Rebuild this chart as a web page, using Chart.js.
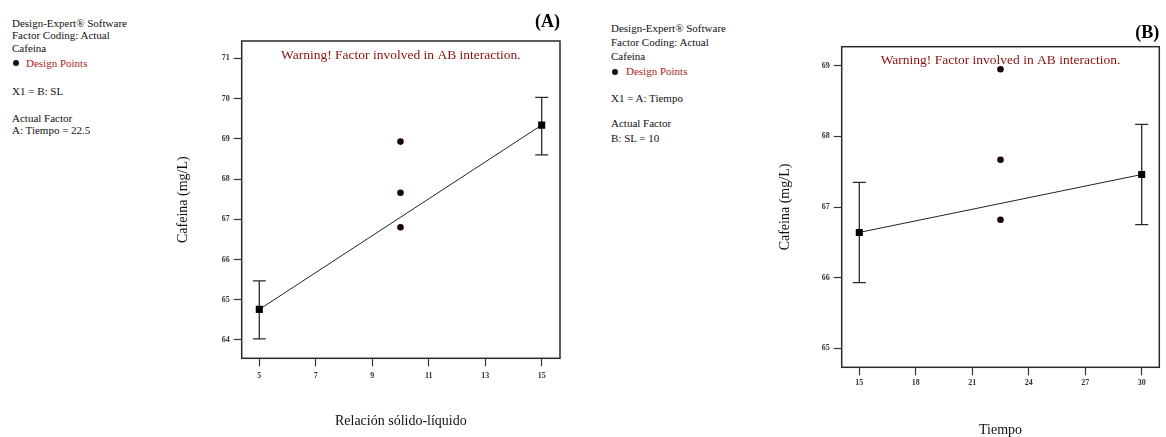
<!DOCTYPE html>
<html>
<head>
<meta charset="utf-8">
<script src="https://cdn.jsdelivr.net/npm/chart.js@4"></script>
<style>
  body { margin: 0; background: #fff; width: 1166px; height: 437px; position: relative; overflow: hidden; }
  canvas { position: absolute; top: 0; }
  .txt { position: absolute; font-family: "Liberation Serif", serif; font-size: 11px; line-height: 13px; color: #111; white-space: nowrap; }
  .red { color: #b01c1c; }
  .dot { position: absolute; width: 6px; height: 6px; border-radius: 50%; background: #111; }
</style>
</head>
<body>
<!-- side notes, panel A -->
<div class="txt" style="left:12px; top:17px">Design-Expert® Software</div>
<div class="txt" style="left:12px; top:28.5px">Factor Coding: Actual</div>
<div class="txt" style="left:12px; top:42px">Cafeina</div>
<div class="dot" style="left:13px; top:60px"></div>
<div class="txt red" style="left:26px; top:57px">Design Points</div>
<div class="txt" style="left:12px; top:85px">X1 = B: SL</div>
<div class="txt" style="left:12px; top:112px">Actual Factor</div>
<div class="txt" style="left:12px; top:123.5px">A: Tiempo = 22.5</div>

<!-- side notes, panel B -->
<div class="txt" style="left:611px; top:22px">Design-Expert® Software</div>
<div class="txt" style="left:611px; top:36px">Factor Coding: Actual</div>
<div class="txt" style="left:611px; top:50px">Cafeina</div>
<div class="dot" style="left:612px; top:69px"></div>
<div class="txt red" style="left:626px; top:65px">Design Points</div>
<div class="txt" style="left:611px; top:92px">X1 = A: Tiempo</div>
<div class="txt" style="left:611px; top:117px">Actual Factor</div>
<div class="txt" style="left:611px; top:132px">B: SL = 10</div>

<canvas id="chartA" width="425" height="437" style="left:150px"></canvas>
<canvas id="chartB" width="406" height="437" style="left:760px"></canvas>

<script>
// ----- panel A: caffeine vs solid-liquid ratio -----
let slX = [5, 15];
let slFit = [64.76, 69.34];
let slErrLow = [64.03, 68.60];
let slErrHigh = [65.47, 70.03];
let slDesignX = [10, 10, 10];
let slDesignY = [68.93, 67.66, 66.80];
let slTicks = [5, 7, 9, 11, 13, 15];
let cafTicksA = [64, 65, 66, 67, 68, 69, 70, 71];

// ----- panel B: caffeine vs time -----
let tiempoX = [15, 30];
let tiempoFit = [66.64, 67.46];
let tiempoErrLow = [65.93, 66.75];
let tiempoErrHigh = [67.35, 68.17];
let tiempoDesignX = [22.5, 22.5, 22.5];
let tiempoDesignY = [68.95, 67.67, 66.82];
let tiempoTicks = [15, 18, 21, 24, 27, 30];
let cafTicksB = [65, 66, 67, 68, 69];

const serif = "'Liberation Serif', 'Times New Roman', serif";
const warning = "Warning! Factor involved in AB interaction.";

// box around plot, error bars and warning line
const designExpert = {
  id: "designExpert",
  beforeDatasetsDraw(chart, args, opts) {
    const ctx = chart.ctx;
    const xs = chart.scales.x, ys = chart.scales.y;
    ctx.save();
    ctx.strokeStyle = "#2a2a2a";
    ctx.lineWidth = 1.3;
    opts.x.forEach((xv, i) => {
      const px = xs.getPixelForValue(xv);
      const top = ys.getPixelForValue(opts.high[i]);
      const bot = ys.getPixelForValue(opts.low[i]);
      ctx.beginPath();
      ctx.moveTo(px, top); ctx.lineTo(px, bot);
      ctx.moveTo(px - 6.5, top); ctx.lineTo(px + 6.5, top);
      ctx.moveTo(px - 6.5, bot); ctx.lineTo(px + 6.5, bot);
      ctx.stroke();
    });
    ctx.restore();
  },
  afterDraw(chart) {
    const ctx = chart.ctx;
    const a = chart.chartArea;
    ctx.save();
    ctx.strokeStyle = "#2a2a2a";
    ctx.lineWidth = 1.5;
    ctx.strokeRect(a.left, a.top, a.right - a.left, a.bottom - a.top);
    ctx.fillStyle = "#8a1010";
    ctx.font = "13.5px " + serif;
    ctx.textAlign = "center";
    ctx.textBaseline = "middle";
    ctx.fillText(warning, (a.left + a.right) / 2, a.top + 14);
    ctx.restore();
  }
};

function makeChart(id, cfg) {
  const ctx = document.getElementById(id).getContext("2d");
  return new Chart(ctx, {
    type: "scatter",
    data: {
      datasets: [{
        data: cfg.fitX.map((x, i) => ({ x: x, y: cfg.fitY[i] })),
        showLine: true,
        borderColor: "#222",
        borderWidth: 1,
        pointStyle: "rect",
        pointRadius: 5,
        pointBackgroundColor: "#000",
        pointBorderColor: "#000",
        pointBorderWidth: 0
      }, {
        data: cfg.designX.map((x, i) => ({ x: x, y: cfg.designY[i] })),
        pointStyle: "circle",
        pointRadius: 3.3,
        pointBackgroundColor: "#1a0505",
        pointBorderColor: "#1a0505",
        pointBorderWidth: 0
      }]
    },
    options: {
      responsive: false,
      animation: false,
      layout: { padding: cfg.padding },
      plugins: {
        legend: { display: false },
        tooltip: { enabled: false },
        title: {
          display: true,
          text: cfg.title,
          align: "end",
          color: "#000",
          font: { family: serif, size: 18, weight: "bold", lineHeight: 1.2 },
          padding: cfg.titlePad
        },
        designExpert: { x: cfg.fitX, low: cfg.errLow, high: cfg.errHigh }
      },
      scales: {
        x: {
          type: "linear",
          min: cfg.xMin, max: cfg.xMax,
          afterBuildTicks: s => { s.ticks = cfg.xTicks.map(v => ({ value: v })); },
          afterFit: s => { s.height = cfg.xAxisH; },
          border: { display: false },
          grid: { drawOnChartArea: false, tickLength: 8, tickColor: "#333", tickWidth: 1.2 },
          ticks: { color: "#333", padding: cfg.xTickPad, maxRotation: 0, font: { family: serif, size: 8, weight: "bold" } },
          title: { display: true, text: cfg.xTitle, color: "#111", padding: 0, font: { family: serif, size: 14, lineHeight: 1 } }
        },
        y: {
          type: "linear",
          min: cfg.yMin, max: cfg.yMax,
          afterBuildTicks: s => { s.ticks = cfg.yTicks.map(v => ({ value: v })); },
          afterFit: s => { s.width = cfg.yAxisW; },
          border: { display: false },
          grid: { drawOnChartArea: false, tickLength: 8, tickColor: "#333", tickWidth: 1.2 },
          ticks: { color: "#333", padding: 4, font: { family: serif, size: 8, weight: "bold" } },
          title: { display: true, text: "Cafeina (mg/L)", color: "#111", padding: 0, font: { family: serif, size: 14, lineHeight: 1 } }
        }
      }
    },
    plugins: [designExpert]
  });
}

makeChart("chartA", {
  title: "(A)",
  fitX: slX, fitY: slFit, errLow: slErrLow, errHigh: slErrHigh,
  designX: slDesignX, designY: slDesignY,
  xTicks: slTicks, yTicks: cafTicksA,
  xMin: 4.377, xMax: 15.648, yMin: 63.545, yMax: 71.43,
  xTitle: "Relación sólido-líquido",
  padding: { left: 26, right: 15, top: 0, bottom: 8.3 },
  titlePad: { top: 11.7, bottom: 7.7 },
  xAxisH: 70.4, yAxisW: 65.7, xTickPad: 5
});

makeChart("chartB", {
  title: "(B)",
  fitX: tiempoX, fitY: tiempoFit, errLow: tiempoErrLow, errHigh: tiempoErrHigh,
  designX: tiempoDesignX, designY: tiempoDesignY,
  xTicks: tiempoTicks, yTicks: cafTicksB,
  xMin: 14.065, xMax: 30.935, yMin: 64.73, yMax: 69.27,
  xTitle: "Tiempo",
  padding: { left: 18, right: 6.7, top: 0, bottom: 0 },
  titlePad: { top: 22.2, bottom: 2.9 },
  xAxisH: 69.7, yAxisW: 63.7, xTickPad: 3
});
</script>
</body>
</html>
